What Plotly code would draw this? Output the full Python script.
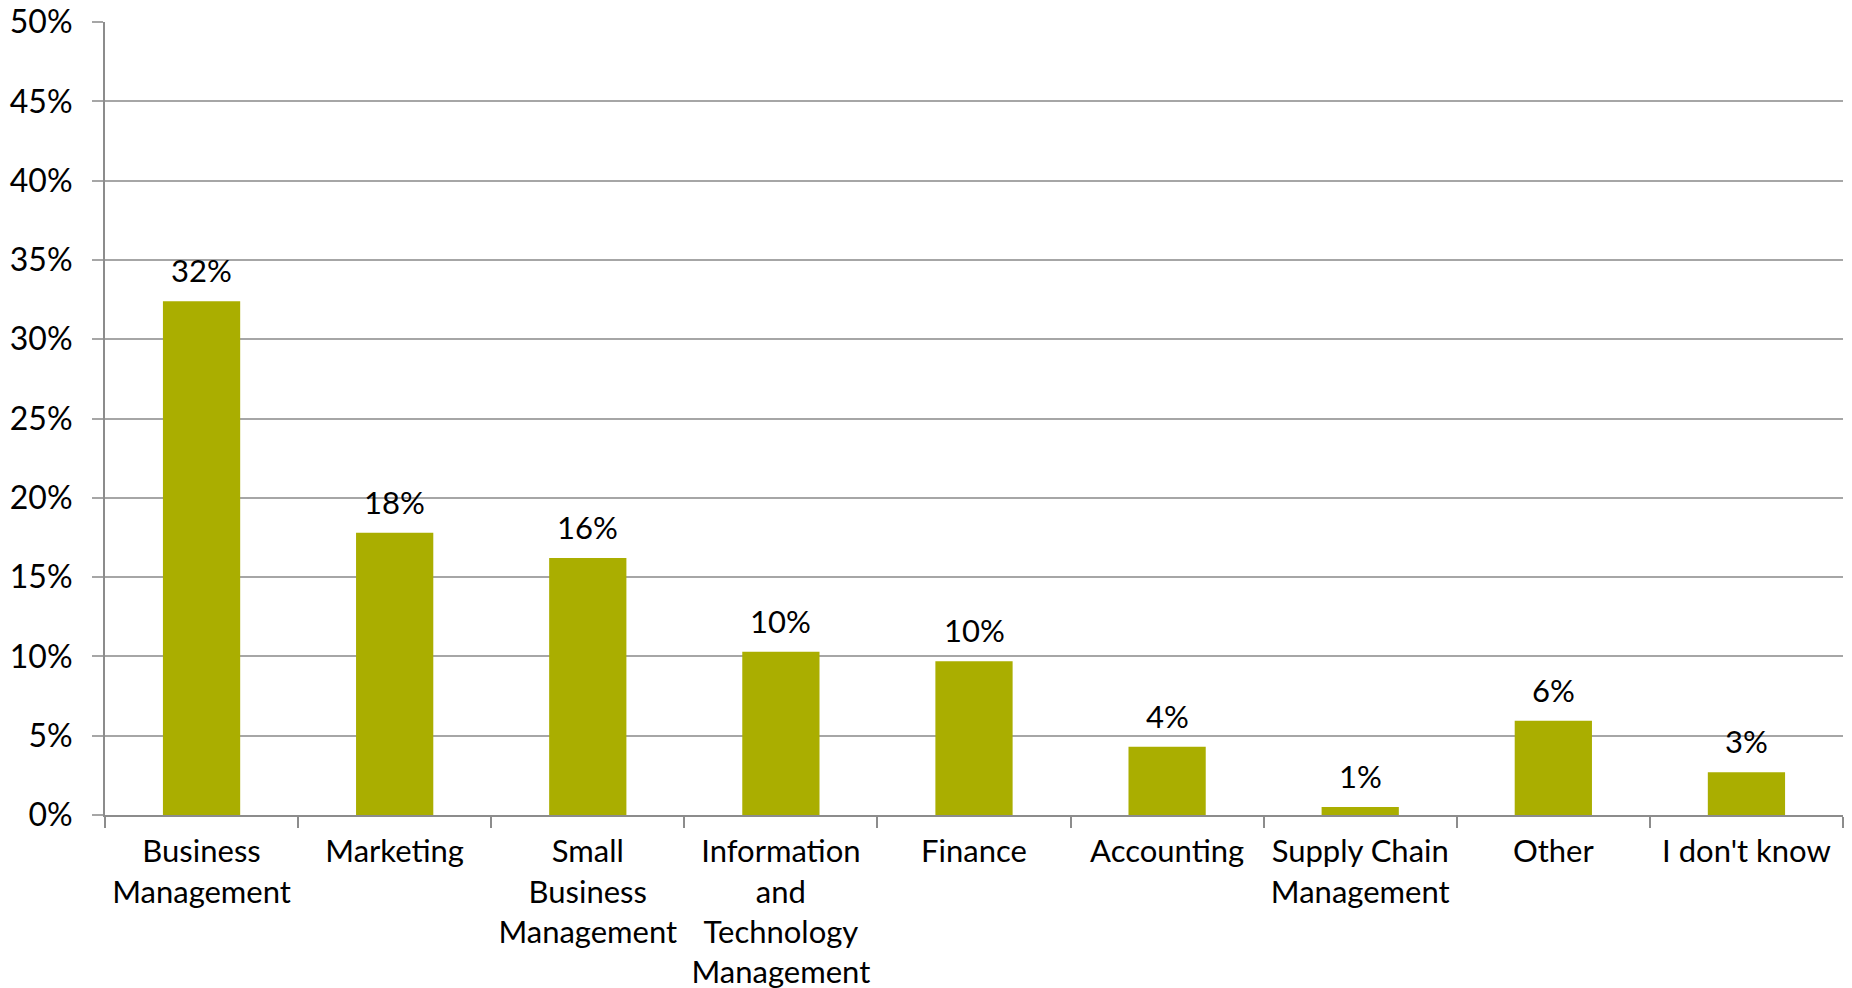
import plotly.graph_objects as go

categories = ["Business<br>Management", "Marketing", "Small<br>Business<br>Management",
              "Information<br>and<br>Technology<br>Management", "Finance", "Accounting",
              "Supply Chain<br>Management", "Other", "I don't know"]
values = [32.4, 17.8, 16.2, 10.3, 9.7, 4.3, 0.5, 5.95, 2.7]
labels = ["32%", "18%", "16%", "10%", "10%", "4%", "1%", "6%", "3%"]
y_ticks = [0, 5, 10, 15, 20, 25, 30, 35, 40, 45, 50]
y_ticktext = [f"{v}%" for v in y_ticks]

FONT = "Lato"
BAR = "#AAAE00"
GRID = "#A6A6A6"

fig = go.Figure()
fig.add_trace(go.Bar(x=categories, y=values, marker=dict(color=BAR, line=dict(width=0)),
                     width=0.4, hoverinfo="skip"))

for c, v, t in zip(categories, values, labels):
    fig.add_annotation(x=c, y=v, text=t, showarrow=False, yanchor="bottom",
                       yshift=10, font=dict(family=FONT, size=31, color="#000000"))

fig.update_layout(
    width=1852, height=988,
    margin=dict(l=105, r=9, t=22, b=173),
    plot_bgcolor="white", paper_bgcolor="white",
    showlegend=False,
    font=dict(family=FONT, size=32, color="#000000"),
    bargap=0.6,
)
fig.update_xaxes(showline=True, linecolor="#8C8C8C", linewidth=2, automargin=False,
                 ticks="outside", tickson="boundaries", ticklen=11, tickcolor="#8C8C8C",
                 tickwidth=1.5, tickangle=0, showgrid=False, ticklabelstandoff=8,
                 tickfont=dict(family=FONT, size=31, color="#000000"))
fig.update_yaxes(range=[0, 50], tickvals=y_ticks, ticktext=y_ticktext, automargin=False,
                 showline=True, linecolor="#8C8C8C", linewidth=2,
                 ticks="outside", ticklen=11, tickcolor=GRID, tickwidth=1.5,
                 ticklabelstandoff=13,
                 showgrid=True, gridcolor=GRID, gridwidth=1.5, zeroline=False,
                 tickfont=dict(family=FONT, size=32, color="#000000"))

fig.write_html("out.html", config={"displayModeBar": False},
               post_script="document.body.style.margin='0';document.body.style.overflow='hidden';")
